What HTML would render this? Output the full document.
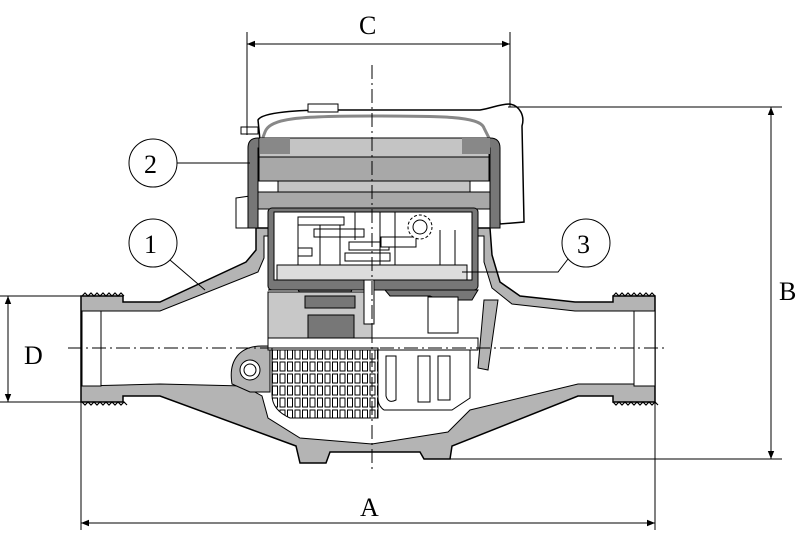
<!DOCTYPE html>
<html><head><meta charset="utf-8"><style>
html,body{margin:0;padding:0;background:#fff}
svg{display:block}
text{font-family:"Liberation Serif",serif;font-size:26px;fill:#000}
</style></head><body>
<svg width="800" height="546" viewBox="0 0 800 546" xmlns="http://www.w3.org/2000/svg">
<defs>
<marker id="ar" viewBox="0 0 10 10" refX="10" refY="5" markerWidth="12" markerHeight="8" orient="auto-start-reverse" markerUnits="userSpaceOnUse"><path d="M0,1 L10,5 L0,9 z" fill="#000"/></marker>
<pattern id="grid" x="272" y="349" width="7.5" height="12" patternUnits="userSpaceOnUse"><rect x="0.5" y="1" width="5" height="9" fill="#fff" stroke="#000" stroke-width="1"/></pattern>
</defs>

<!-- body outer shell -->
<path d="M81,296 L123,296 L123,302 L160,302 L246,262 L256,250 L256,228 L490,228 L492,255 L500,282 L520,296 L575,302 L613,302 L613,296 L655,296 L655,402 L613,402 L613,396 L578,396 L452,446 L450,459 L424,459 L420,452 L330,452 L326,463 L300,463 L296,446 L160,396 L123,396 L123,402 L81,402 Z" fill="#b4b4b4" stroke="#000" stroke-width="1.5"/>
<!-- threads -->
<path d="M82,296 l3,-3 l3,3 l3,-3 l3,3 l3,-3 l3,3 l3,-3 l3,3 l3,-3 l3,3 l3,-3 l3,3 l3,-3 l3,3 M82,402 l3,3 l3,-3 l3,3 l3,-3 l3,3 l3,-3 l3,3 l3,-3 l3,3 l3,-3 l3,3 l3,-3 l3,3 l3,-3 l3,3 M613,296 l3,-3 l3,3 l3,-3 l3,3 l3,-3 l3,3 l3,-3 l3,3 l3,-3 l3,3 l3,-3 l3,3 l3,-3 l3,3 M613,402 l3,3 l3,-3 l3,3 l3,-3 l3,3 l3,-3 l3,3 l3,-3 l3,3 l3,-3 l3,3 l3,-3 l3,3 l3,-3 l3,3" fill="none" stroke="#000" stroke-width="1.2"/>
<!-- inner cavity -->
<path d="M82,311 L160,311 L258,272 L264,258 L264,236 L484,236 L484,262 L492,288 L512,304 L575,311 L655,311 L655,384 L578,384 L470,410 L448,432 L372,444 L300,438 L268,418 L262,396 L244,386 L160,384 L82,386 Z" fill="#fff" stroke="#000" stroke-width="1"/>
<!-- end inserts -->
<rect x="82" y="311" width="19" height="75" fill="#fff" stroke="#000"/>
<rect x="634" y="311" width="21" height="75" fill="#fff" stroke="#000"/>
<!-- lug -->
<path d="M232,384 C228,360 240,346 262,346 L270,346 L270,392 L250,392 Z" fill="#b4b4b4" stroke="#000"/>
<circle cx="250" cy="370" r="10" fill="#fff" stroke="#000"/>
<circle cx="250" cy="370" r="6" fill="#fff" stroke="#000"/>
<!-- right inner rib -->
<path d="M484,300 L498,300 L488,370 L478,368 Z" fill="#b4b4b4" stroke="#000"/>

<!-- lid -->
<path d="M258,120 C262,112 300,110 330,110 L480,110 C492,108 500,104 510,104 C520,106 525,116 522,126 L524,222 L500,224 L496,140 L260,140 Z" fill="#fff" stroke="#000" stroke-width="1.5"/>
<path d="M265,132 C270,118 300,116 372,116 C440,116 480,116 484,128 L490,140 L262,140 Z" fill="#fff" stroke="#888" stroke-width="3"/>
<rect x="308" y="104" width="30" height="8" fill="#fff" stroke="#000"/>
<path d="M241,127 L258,127 L258,134 L241,134 Z" fill="#fff" stroke="#000"/>
<path d="M236,198 L250,196 L252,228 L236,228 Z" fill="#fff" stroke="#000"/>
<!-- casing ring -->
<path d="M248,228 L248,148 Q248,138 258,138 L490,138 Q500,138 500,148 L500,228 L490,228 L490,148 L258,148 L258,228 Z" fill="#777" stroke="#000"/>
<rect x="259" y="138" width="230" height="20" fill="#c4c4c4" stroke="#000"/>
<rect x="260" y="138" width="30" height="16" fill="#888"/>
<rect x="462" y="138" width="28" height="16" fill="#888"/>
<rect x="259" y="157" width="230" height="25" fill="#a8a8a8" stroke="#000"/>
<rect x="258" y="181" width="232" height="11" fill="#fff" stroke="#000"/>
<rect x="278" y="181" width="192" height="11" fill="#c4c4c4" stroke="#000"/>
<rect x="258" y="192" width="232" height="17" fill="#a8a8a8" stroke="#000"/>
<!-- register box -->
<rect x="268" y="208" width="210" height="82" rx="4" fill="#777" stroke="#000"/>
<rect x="274" y="212" width="198" height="68" fill="#fff" stroke="#000"/>
<g fill="#fff" stroke="#000" stroke-width="1">
<rect x="298" y="217" width="46" height="8"/><rect x="314" y="229" width="50" height="8"/><rect x="349" y="242" width="40" height="8"/><rect x="345" y="253" width="45" height="8"/><rect x="381" y="237" width="35" height="10"/><rect x="298" y="248" width="14" height="8"/>
<line x1="298" y1="217" x2="298" y2="266"/><line x1="320" y1="225" x2="320" y2="266"/><line x1="340" y1="225" x2="340" y2="266"/><line x1="355" y1="212" x2="355" y2="240"/><line x1="380" y1="212" x2="380" y2="266"/><line x1="395" y1="212" x2="395" y2="266"/><line x1="440" y1="230" x2="440" y2="266"/><line x1="455" y1="230" x2="455" y2="266"/>
</g>
<circle cx="420" cy="227" r="12" fill="#fff" stroke="#000" stroke-dasharray="3,2"/>
<circle cx="420" cy="227" r="7" fill="#fff" stroke="#000"/>
<rect x="277" y="265" width="190" height="15" fill="#ddd" stroke="#000"/>
<path d="M268,290 L478,290 L472,300 L440,300 L430,296 L390,296 L385,290 L352,290 L346,300 L305,300 L298,290 Z" fill="#777" stroke="#000"/>
<!-- lower mechanism -->
<rect x="268" y="292" width="104" height="56" fill="#c8c8c8" stroke="#000"/>
<rect x="308" y="315" width="46" height="23" fill="#777" stroke="#000"/>
<rect x="305" y="296" width="50" height="12" fill="#777" stroke="#000"/>
<rect x="364" y="280" width="10" height="44" fill="#fff" stroke="#000"/>
<rect x="428" y="297" width="30" height="36" fill="#fff" stroke="#000"/>
<rect x="268" y="338" width="210" height="12" fill="#fff" stroke="#000"/>
<!-- strainer -->
<path d="M272,348 L378,348 L378,418 L290,418 Q272,410 272,395 Z" fill="url(#grid)" stroke="#000"/>
<path d="M378,350 L470,350 L470,398 L452,410 L384,410 Q378,406 378,398 Z" fill="#fff" stroke="#000"/>
<path d="M386,356 L396,356 L396,400 Q388,404 386,396 Z M418,356 L430,356 L430,402 L418,402 Z M438,356 L450,356 L450,400 L438,400 Z" fill="#fff" stroke="#000"/>

<!-- centre lines -->
<line x1="372" y1="65" x2="372" y2="472" stroke="#000" stroke-width="1" stroke-dasharray="14,4,2,4"/>
<line x1="68" y1="348" x2="665" y2="348" stroke="#000" stroke-width="1" stroke-dasharray="14,4,2,4"/>

<!-- dimensions -->
<g stroke="#000" stroke-width="1" fill="none">
<line x1="247" y1="32" x2="247" y2="135"/><line x1="510" y1="32" x2="510" y2="107"/>
<line x1="247" y1="44" x2="510" y2="44" marker-start="url(#ar)" marker-end="url(#ar)"/>
<line x1="508" y1="107" x2="782" y2="107"/><line x1="430" y1="459" x2="782" y2="459"/>
<line x1="771" y1="107" x2="771" y2="459" marker-start="url(#ar)" marker-end="url(#ar)"/>
<line x1="81" y1="402" x2="81" y2="530"/><line x1="655" y1="402" x2="655" y2="530"/>
<line x1="81" y1="523" x2="655" y2="523" marker-start="url(#ar)" marker-end="url(#ar)"/>
<line x1="0" y1="296" x2="82" y2="296"/><line x1="0" y1="402" x2="82" y2="402"/>
<line x1="8" y1="296" x2="8" y2="402" marker-start="url(#ar)" marker-end="url(#ar)"/>
<!-- callouts -->
<circle cx="153" cy="163" r="24"/><line x1="177" y1="163" x2="250" y2="163"/>
<circle cx="153" cy="243" r="24"/><line x1="170" y1="260" x2="205" y2="290"/>
<circle cx="586" cy="243" r="24"/><polyline points="568,259 558,272 462,272"/>
</g>
<text x="359" y="34">C</text>
<text x="779" y="300">B</text>
<text x="360" y="516">A</text>
<text x="24" y="364">D</text>
<text x="144" y="173">2</text>
<text x="144" y="253">1</text>
<text x="577" y="253">3</text>
</svg>
</body></html>
